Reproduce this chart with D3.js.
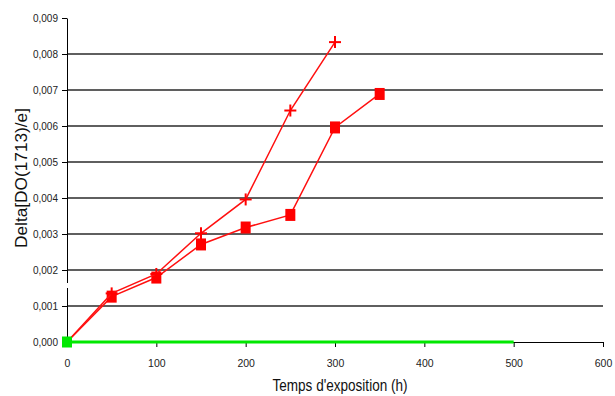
<!DOCTYPE html>
<html><head><meta charset="utf-8">
<script src="https://cdn.jsdelivr.net/npm/d3@7"></script>
<style>body{margin:0;background:#fff}svg{display:block}</style>
</head><body>
<svg id="c" width="615" height="396"></svg>
<script>
const crossX = [0, 50, 100, 150, 200, 250, 300];
const crossY = [0, 0.00135, 0.00189, 0.00302, 0.00396, 0.00643, 0.00833];
const squareX = [0, 50, 100, 150, 200, 250, 300, 350];
const squareY = [0, 0.00126, 0.00179, 0.00271, 0.00318, 0.00353, 0.00596, 0.00689];
const greenX = [0, 500];
const greenY = [0, 0];
const xTicks = [0, 100, 200, 300, 400, 500, 600];
const yTicks = [0, 0.001, 0.002, 0.003, 0.004, 0.005, 0.006, 0.007, 0.008, 0.009];
const xTitle = "Temps d'exposition (h)";
const yTitle = "Delta[DO(1713)/e]";

const svg = d3.select("#c");
const x = d3.scaleLinear().domain([0, 600]).range([67, 603]);
const y = d3.scaleLinear().domain([0, 0.009]).range([342, 18]);
const fmt = d => d3.format(".3f")(d).replace(".", ",");
const FONT = "Liberation Sans, Arial, sans-serif";

// gridlines
svg.append("g").selectAll("line").data(yTicks.filter(d => d > 0 && d < 0.009)).join("line")
  .attr("x1", x(0)).attr("x2", x(600)).attr("y1", d => y(d)).attr("y2", d => y(d))
  .attr("stroke", "#2a2a2a").attr("stroke-width", 1.6);

// y axis
const ya = svg.append("g").attr("transform", `translate(${x(0)},0)`)
  .call(d3.axisLeft(y).tickValues(yTicks).tickFormat(fmt).tickSize(5).tickSizeOuter(0));
ya.select(".domain").attr("stroke", "#000");
ya.selectAll("text").attr("font-family", FONT).attr("font-size", 10).attr("fill", "#222").attr("x", -9);
svg.append("rect").attr("x", x(0) - 2).attr("y", 283).attr("width", 4).attr("height", 5).attr("fill", "#fff");

// x axis
const xa = svg.append("g").attr("transform", `translate(0,${y(0)})`)
  .call(d3.axisBottom(x).tickValues(xTicks).tickFormat(d3.format("d")).tickSize(5).tickSizeOuter(0));
xa.select(".domain").attr("stroke", "#000");
xa.selectAll("text").attr("font-family", FONT).attr("font-size", 10.5).attr("fill", "#222").attr("y", 25).attr("dy", 0);

const line = d3.line().x(d => x(d[0])).y(d => y(d[1]));
const zip = (a, b) => a.map((v, i) => [v, b[i]]);

// green series
const gData = zip(greenX, greenY);
svg.append("path").attr("d", line(gData)).attr("fill", "none").attr("stroke", "#00e800").attr("stroke-width", 3);

// square series
const sData = zip(squareX, squareY);
svg.append("path").attr("d", line(sData)).attr("fill", "none").attr("stroke", "#ff1010").attr("stroke-width", 1.5);
svg.append("g").selectAll("rect").data(sData.slice(1)).join("rect")
  .attr("x", d => x(d[0]) - 5).attr("y", d => y(d[1]) - 6).attr("width", 10).attr("height", 12).attr("fill", "#ff0000");

// cross series
const cData = zip(crossX, crossY);
svg.append("path").attr("d", line(cData)).attr("fill", "none").attr("stroke", "#ff1010").attr("stroke-width", 1.5);
const cg = svg.append("g").attr("stroke", "#ff0000").attr("stroke-width", 2);
cData.slice(1).forEach(d => {
  const cx = x(d[0]), cy = y(d[1]);
  cg.append("line").attr("x1", cx - 6).attr("x2", cx + 6).attr("y1", cy).attr("y2", cy);
  cg.append("line").attr("x1", cx).attr("x2", cx).attr("y1", cy - 6).attr("y2", cy + 6);
});
// green marker on top
svg.append("rect").attr("x", x(gData[0][0]) - 5).attr("y", y(gData[0][1]) - 5.5).attr("width", 10).attr("height", 11).attr("fill", "#00e800");

// titles
svg.append("text").attr("x", 340).attr("y", 391).attr("text-anchor", "middle")
  .attr("font-family", FONT).attr("font-size", 17)
  .attr("textLength", 135).attr("lengthAdjust", "spacingAndGlyphs").attr("fill", "#111").text(xTitle);
svg.append("text").attr("transform", "translate(27,178) rotate(-90)").attr("text-anchor", "middle")
  .attr("font-family", FONT).attr("font-size", 17)
  .attr("textLength", 140).attr("lengthAdjust", "spacingAndGlyphs").attr("fill", "#111").text(yTitle);
</script>
</body></html>
